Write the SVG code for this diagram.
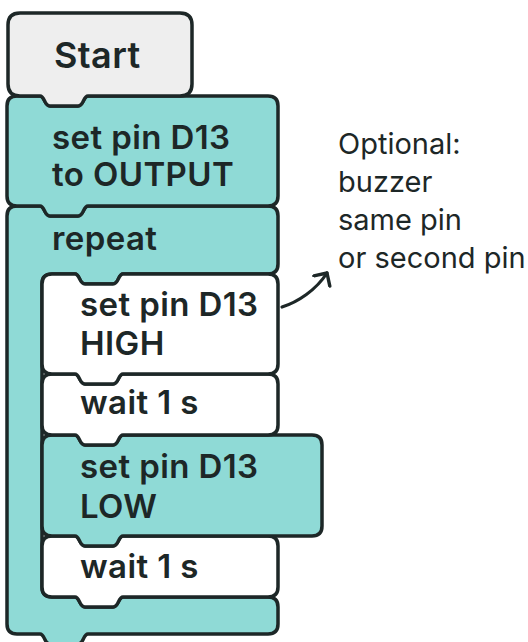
<svg xmlns="http://www.w3.org/2000/svg" width="528" height="642" viewBox="0 0 528 642">
<defs>
<style>
.blk{stroke:#1d2727;stroke-width:3.5;stroke-linejoin:round}
.teal{fill:#8fdad6}
.white{fill:#ffffff}
.gray{fill:#eeeeee}
.t{font-family:Inter,"Liberation Sans",sans-serif;font-weight:600;font-size:33px;letter-spacing:0.4px;fill:#1d2727}
.note{font-family:Inter,"Liberation Sans",sans-serif;font-weight:400;font-size:29px;fill:#1d2727}
.conn{fill:none;stroke:#1d2727;stroke-width:3.2;stroke-linecap:round}
</style>
<marker id="arr" markerWidth="24" markerHeight="24" refX="11" refY="11" orient="auto" markerUnits="userSpaceOnUse">
<path d="M1.5 1.5 L11 11 L1.5 20.5" fill="none" stroke="#1d2727" stroke-width="3.4" stroke-linecap="round" stroke-linejoin="round"/>
</marker>
</defs>
<rect width="528" height="642" fill="#ffffff"/>
<g id="repeat">
<path class="blk teal" d="M 17 206 L 40 206 C 45 206 44 216 50 216 L 78 216 C 84 216 83 206 88 206 L 268 206 Q 278 206 278 216 L 278 264 Q 278 274 268 274 L 123 274 C 118 274 119 284 113 284 L 85 284 C 79 284 80 274 75 274 L 52 274 Q 42 274 42 284 L 42 587 Q 42 597 52 597 L 75 597 C 80 597 79 607 85 607 L 113 607 C 119 607 118 597 123 597 L 268 597 Q 278 597 278 607 L 278 624 Q 278 634 268 634 L 88 634 C 83 634 84 644 78 644 L 50 644 C 44 644 45 634 40 634 L 17 634 Q 7 634 7 624 L 7 216 Q 7 206 17 206 Z"/>
<text class="t" x="52" y="250">repeat</text>
</g>
<g id="wait2">
<path class="blk white" d="M 52 536 L 75 536 C 80 536 79 546 85 546 L 113 546 C 119 546 118 536 123 536 L 268 536 Q 278 536 278 546 L 278 587 Q 278 597 268 597 L 123 597 C 118 597 119 607 113 607 L 85 607 C 79 607 80 597 75 597 L 52 597 Q 42 597 42 587 L 42 546 Q 42 536 52 536 Z"/>
<text class="t" x="80" y="578">wait 1 s</text>
</g>
<g id="setLow">
<path class="blk teal" d="M 52 435 L 75 435 C 80 435 79 445 85 445 L 113 445 C 119 445 118 435 123 435 L 312 435 Q 322 435 322 445 L 322 526 Q 322 536 312 536 L 123 536 C 118 536 119 546 113 546 L 85 546 C 79 546 80 536 75 536 L 52 536 Q 42 536 42 526 L 42 445 Q 42 435 52 435 Z"/>
<text class="t" x="80" y="478">set pin D13</text>
<text class="t" x="80" y="518">LOW</text>
</g>
<g id="wait1">
<path class="blk white" d="M 52 374 L 75 374 C 80 374 79 384 85 384 L 113 384 C 119 384 118 374 123 374 L 268 374 Q 278 374 278 384 L 278 425 Q 278 435 268 435 L 123 435 C 118 435 119 445 113 445 L 85 445 C 79 445 80 435 75 435 L 52 435 Q 42 435 42 425 L 42 384 Q 42 374 52 374 Z"/>
<text class="t" x="80" y="414">wait 1 s</text>
</g>
<g id="setHigh">
<path class="blk white" d="M 52 274 L 75 274 C 80 274 79 284 85 284 L 113 284 C 119 284 118 274 123 274 L 268 274 Q 278 274 278 284 L 278 364 Q 278 374 268 374 L 123 374 C 118 374 119 384 113 384 L 85 384 C 79 384 80 374 75 374 L 52 374 Q 42 374 42 364 L 42 284 Q 42 274 52 274 Z"/>
<text class="t" x="80" y="316">set pin D13</text>
<text class="t" x="80" y="355">HIGH</text>
</g>
<g id="setOutput">
<path class="blk teal" d="M 17 96 L 40 96 C 45 96 44 106 50 106 L 78 106 C 84 106 83 96 88 96 L 268 96 Q 278 96 278 106 L 278 196 Q 278 206 268 206 L 88 206 C 83 206 84 216 78 216 L 50 216 C 44 216 45 206 40 206 L 17 206 Q 7 206 7 196 L 7 106 Q 7 96 17 96 Z"/>
<text class="t" x="52" y="149">set pin D13</text>
<text class="t" x="52" y="186">to OUTPUT</text>
</g>
<g id="start">
<path class="blk gray" d="M 20 13 L 180 13 Q 192 13 192 25 L 192 84 Q 192 96 180 96 L 88 96 C 83 96 84 106 78 106 L 50 106 C 44 106 45 96 40 96 L 20 96 Q 8 96 8 84 L 8 25 Q 8 13 20 13 Z"/>
<text class="t" x="54" y="68" style="font-size:36px">Start</text>
</g>
<g id="note">
<text class="note" x="338" y="154">Optional:</text>
<text class="note" x="338" y="192">buzzer</text>
<text class="note" x="338" y="230">same pin</text>
<text class="note" x="338" y="268">or second pin</text>
</g>
<g id="connectors">
<path class="conn" d="M 282 307 C 298 302 316 290 327 273" marker-end="url(#arr)"/>
</g>
</svg>
